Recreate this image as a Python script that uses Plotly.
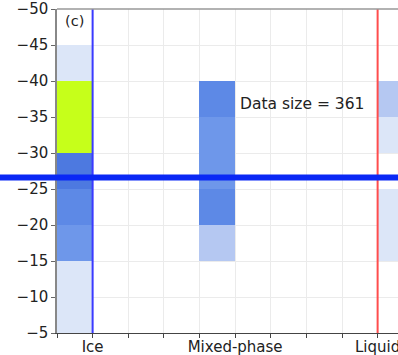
import numpy as np
import plotly.graph_objects as go

categories = ["Ice", "Mixed-phase", "Liquid"]
cat_pos = [0, 1, 2]
# temperature bin centres (5-degree bins from -50 to -5)
temp_bins = [-47.5, -42.5, -37.5, -32.5, -27.5, -22.5, -17.5, -12.5, -7.5]
# counts per bin for each phase
ice_counts = [None, 3, 60, 60, 38, 30, 25, 3, 3]
mixed_counts = [None, None, 30, 25, 25, 30, 10, None, None]
liquid_counts = [None, None, 10, 3, None, 3, 3, None, None]
data_size = 361
freezing_line = -26.6
y_ticks = [-50, -45, -40, -35, -30, -25, -20, -15, -10, -5]

# heatmap columns at quarter steps; Ice/Mixed bins left of category, Liquid right
x_centres = [-0.125 + 0.25 * k for k in range(10)]
col_map = {0: ice_counts, 4: mixed_counts, 9: liquid_counts}
z = []
for i in range(len(temp_bins)):
    row = []
    for k in range(10):
        v = col_map[k][i] if k in col_map else None
        row.append(np.nan if v is None else v)
    z.append(row)

zmax = 60
cs = [
    [0.0, "#e6edfb"],
    [3 / zmax, "#dce6f8"],
    [10 / zmax, "#b5c8f2"],
    [25 / zmax, "#6e97ea"],
    [30 / zmax, "#5d89e6"],
    [38 / zmax, "#4d79e0"],
    [59 / zmax, "#4d79e0"],
    [1.0, "#c6ff1a"],
]

fig = go.Figure()
fig.add_trace(go.Heatmap(
    x=x_centres, y=temp_bins, z=z, zmin=0, zmax=zmax,
    colorscale=cs, showscale=False, hoverongaps=False,
))

# vertical lines at Ice and Liquid
fig.add_shape(type="line", xref="x", yref="paper", x0=0, x1=0, y0=0, y1=1,
              line=dict(color="#3a3aff", width=2))
fig.add_shape(type="line", xref="x", yref="paper", x0=2, x1=2, y0=0, y1=1,
              line=dict(color="#ff4d4d", width=2))
# thick horizontal line
fig.add_shape(type="line", xref="paper", yref="y", x0=-0.2, x1=1.0,
              y0=freezing_line, y1=freezing_line,
              line=dict(color="#0a28f5", width=6))
# top border
fig.add_shape(type="line", xref="paper", yref="paper", x0=0, x1=1, y0=1, y1=1,
              line=dict(color="#999999", width=1.5))

fig.add_annotation(x=-0.205, y=-48.3, xref="x", yref="y", text="(c)",
                   showarrow=False, xanchor="left",
                   font=dict(family="DejaVu Sans", size=14.5, color="#222"))
fig.add_annotation(x=1.02, y=-36.8, xref="x", yref="y",
                   text=f"Data size = {data_size}",
                   showarrow=False, xanchor="left",
                   font=dict(family="DejaVu Sans", size=15.5, color="#222"))

x_tickvals = [-0.25 + 0.25 * k for k in range(11)]
x_ticktext = []
for v in x_tickvals:
    if abs(v - round(v)) < 1e-9 and int(round(v)) in cat_pos:
        x_ticktext.append(categories[int(round(v))])
    else:
        x_ticktext.append("")

fig.update_layout(
    width=398, height=355,
    margin=dict(l=57, r=0, t=9, b=22),
    plot_bgcolor="white", paper_bgcolor="white",
    showlegend=False,
    font=dict(family="DejaVu Sans", size=15, color="#222"),
)
fig.update_xaxes(
    range=[-0.25, 2.143], tickvals=x_tickvals, ticktext=x_ticktext,
    showgrid=True, gridcolor="#ebebeb", gridwidth=1, zeroline=False,
    showline=True, linecolor="#444", linewidth=1.2,
    ticks="outside", ticklen=4, tickcolor="#444",
    tickfont=dict(size=15), automargin=False, ticklabelstandoff=-4,
    ticklabeloverflow="allow",
)
fig.update_yaxes(
    range=[-5, -50], autorange=False,
    tickvals=y_ticks, ticktext=[str(v).replace("-", "\u2212") for v in y_ticks],
    showgrid=True, gridcolor="#ebebeb", gridwidth=1, zeroline=False,
    showline=True, linecolor="#888", linewidth=1.5,
    ticks="outside", ticklen=4, tickcolor="#666",
    tickfont=dict(size=15), automargin=False,
)

fig.write_html("out.html", config={"displayModeBar": False},
               post_script="document.body.style.margin='0';document.body.style.overflow='hidden';")
